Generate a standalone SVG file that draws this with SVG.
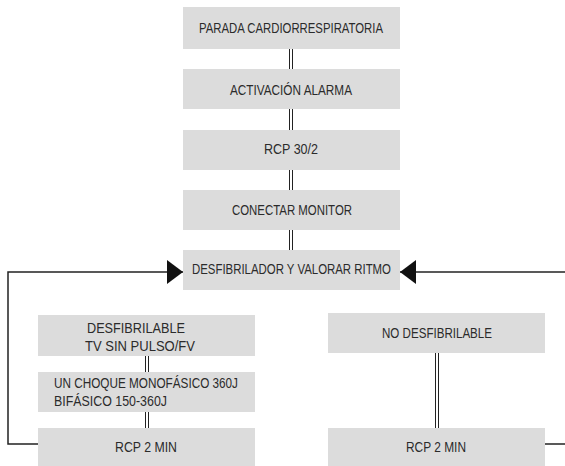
<svg xmlns="http://www.w3.org/2000/svg" width="565" height="466" viewBox="0 0 565 466">
  <style>
    .box { fill: #dcdcdc; }
    .lbl { font-family: "Liberation Sans", Arial, sans-serif; font-size: 15px; fill: #2b2b2b; }
    .dbl { stroke: #222222; stroke-width: 1; fill: none; }
    .loop { stroke: #222222; stroke-width: 1.5; fill: none; }
  </style>
  <defs>
    <marker id="head" markerUnits="userSpaceOnUse" markerWidth="17" markerHeight="25" refX="16" refY="12" orient="auto">
      <path d="M0,0 L16,12 L0,24 Z" fill="#111111"/>
    </marker>
  </defs>
  <rect width="565" height="466" fill="#ffffff"/>

  <!-- connectors -->
  <g id="connectors">
    <!-- double rules between the main steps -->
    <path class="dbl" d="M289.5,49 V69 M292.5,49 V69"/>
    <path class="dbl" d="M289.5,109 V130 M292.5,109 V130"/>
    <path class="dbl" d="M289.5,170 V190 M292.5,170 V190"/>
    <path class="dbl" d="M289.5,230 V250 M292.5,230 V250"/>
    <!-- shockable branch -->
    <path class="dbl" d="M145.5,356 V372 M148.5,356 V372"/>
    <path class="dbl" d="M145.5,412 V428 M148.5,412 V428"/>
    <!-- non-shockable branch -->
    <path class="dbl" d="M435.5,353 V428 M438.5,353 V428"/>
    <!-- return loops to rhythm check -->
    <path class="loop" d="M38,444 H8 V272 H183" marker-end="url(#head)"/>
    <path class="loop" d="M545,444 H565"/>
    <path class="loop" d="M565,272 H400" marker-end="url(#head)"/>
  </g>

  <g id="parada">
    <rect class="box" x="183" y="7" width="217" height="42"/>
    <text class="lbl" x="199" y="32.5" textLength="184" lengthAdjust="spacingAndGlyphs">PARADA CARDIORRESPIRATORIA</text>
  </g>
  <g id="activacion">
    <rect class="box" x="183" y="69" width="217" height="40"/>
    <text class="lbl" x="230" y="94.5" textLength="122" lengthAdjust="spacingAndGlyphs">ACTIVACIÓN ALARMA</text>
  </g>
  <g id="rcp302">
    <rect class="box" x="183" y="130" width="217" height="40"/>
    <text class="lbl" x="264" y="154" textLength="54" lengthAdjust="spacingAndGlyphs">RCP 30/2</text>
  </g>
  <g id="monitor">
    <rect class="box" x="183" y="190" width="217" height="40"/>
    <text class="lbl" x="232" y="214.5" textLength="120" lengthAdjust="spacingAndGlyphs">CONECTAR MONITOR</text>
  </g>
  <g id="ritmo">
    <rect class="box" x="183" y="250" width="217" height="40"/>
    <text class="lbl" x="192" y="273.5" textLength="199" lengthAdjust="spacingAndGlyphs">DESFIBRILADOR Y VALORAR RITMO</text>
  </g>
  <g id="desfibrilable">
    <rect class="box" x="38" y="315" width="217" height="41"/>
    <text class="lbl" x="87" y="332.5" textLength="98" lengthAdjust="spacingAndGlyphs">DESFIBRILABLE</text>
    <text class="lbl" x="85" y="350.5" textLength="110" lengthAdjust="spacingAndGlyphs">TV SIN PULSO/FV</text>
  </g>
  <g id="choque">
    <rect class="box" x="38" y="372" width="217" height="40"/>
    <text class="lbl" x="54" y="387.5" textLength="184" lengthAdjust="spacingAndGlyphs">UN CHOQUE MONOFÁSICO 360J</text>
    <text class="lbl" x="54" y="405.5" textLength="113" lengthAdjust="spacingAndGlyphs">BIFÁSICO 150-360J</text>
  </g>
  <g id="rcp2-izq">
    <rect class="box" x="38" y="428" width="217" height="38"/>
    <text class="lbl" x="115" y="451.5" textLength="62" lengthAdjust="spacingAndGlyphs">RCP 2 MIN</text>
  </g>
  <g id="no-desfibrilable">
    <rect class="box" x="328" y="313" width="217" height="40"/>
    <text class="lbl" x="382" y="337.5" textLength="110" lengthAdjust="spacingAndGlyphs">NO DESFIBRILABLE</text>
  </g>
  <g id="rcp2-der">
    <rect class="box" x="328" y="428" width="217" height="38"/>
    <text class="lbl" x="406" y="451.5" textLength="60" lengthAdjust="spacingAndGlyphs">RCP 2 MIN</text>
  </g>
</svg>
